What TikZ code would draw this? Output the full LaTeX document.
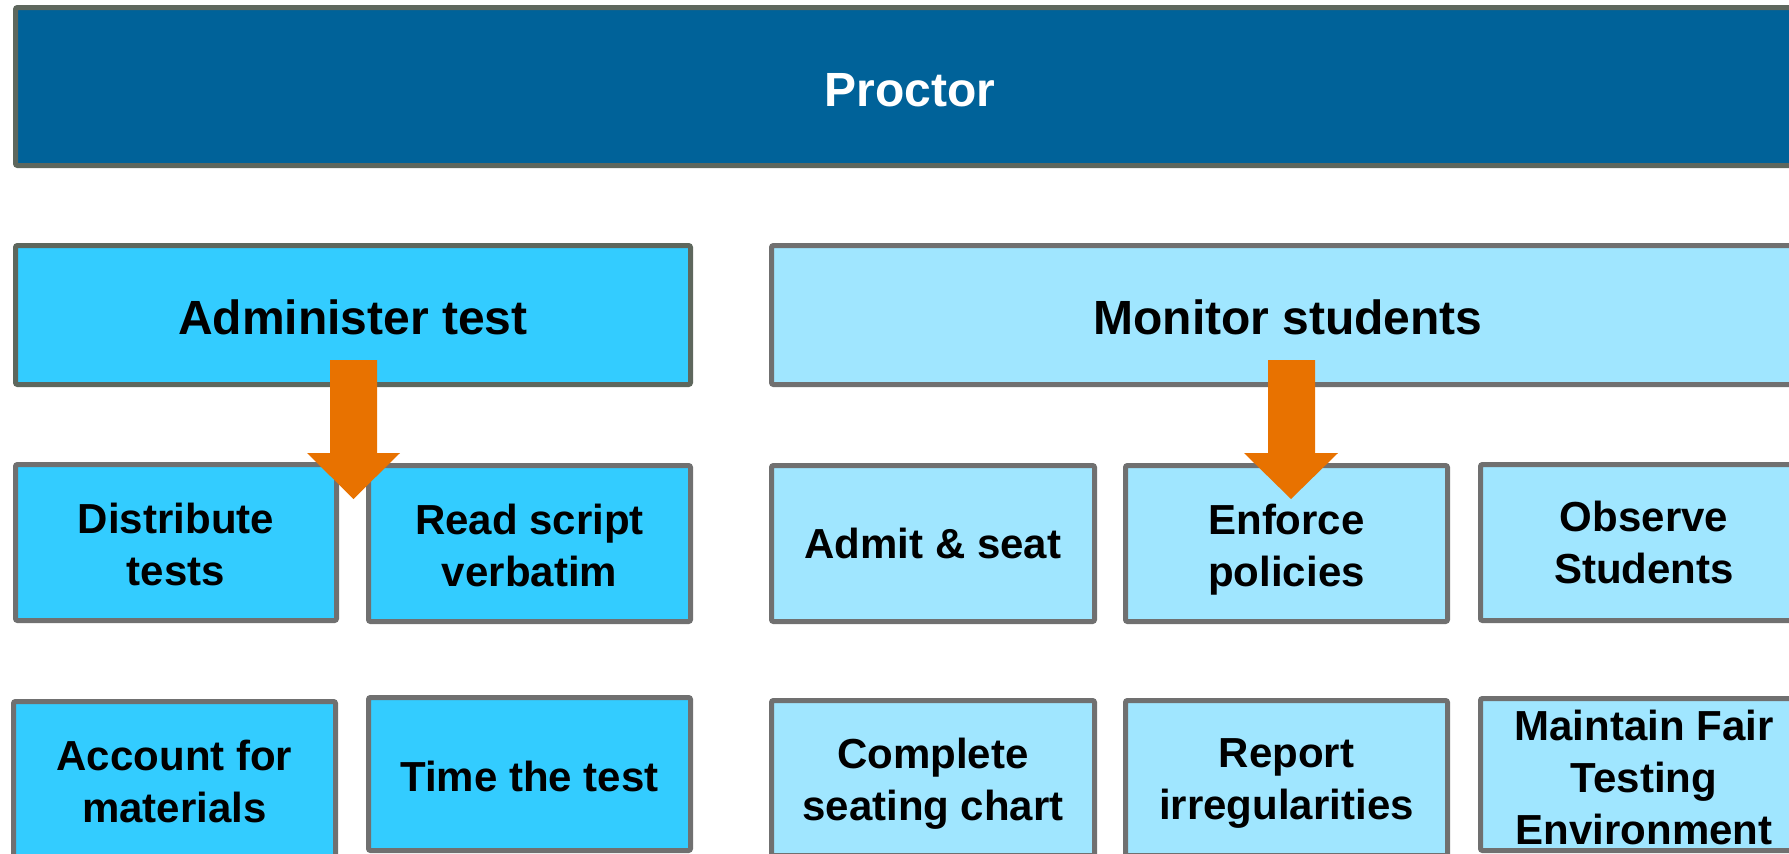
\documentclass[tikz,border=0pt]{standalone}
\usepackage{fontspec}
\setmainfont{Liberation Sans}
\definecolor{proctorfill}{HTML}{006299}
\definecolor{darkedge}{HTML}{5E675D}
\definecolor{grayedge}{HTML}{707070}
\definecolor{adminfill}{HTML}{33CCFF}
\definecolor{monfill}{HTML}{A0E6FF}
\definecolor{arroworange}{HTML}{E87200}
\tikzset{
  basebox/.style={draw, line width=5pt, rounded corners=2pt, inner sep=0pt},
  topbox/.style={basebox, draw=darkedge, fill=proctorfill},
  headA/.style={basebox, draw=darkedge, fill=adminfill},
  headM/.style={basebox, draw=grayedge, fill=monfill},
  taskA/.style={basebox, draw=grayedge, fill=adminfill},
  taskM/.style={basebox, draw=grayedge, fill=monfill},
  bigtext/.style={inner sep=0pt, align=center, font=\fontsize{48}{58}\selectfont\bfseries},
  smalltext/.style={inner sep=0pt, align=center, font=\fontsize{42}{52}\selectfont\bfseries},
  blockarrow/.style={fill=arroworange, draw=none}
}
\begin{document}
\begin{tikzpicture}[x=1pt,y=-1pt]
\useasboundingbox (0,0) rectangle (1789,854);
\clip (0,0) rectangle (1789,854);
\node[topbox, minimum width=1789pt, minimum height=158pt] (proctor) at (910,86.5) {};
\node[headA, minimum width=675pt, minimum height=139pt] (admin) at (353,315) {};
\node[headM, minimum width=1033pt, minimum height=139pt] (monitor) at (1288,315) {};
% row 2
\node[taskA, minimum width=321pt, minimum height=156pt] (distribute) at (176,542.5) {};
\node[taskA, minimum width=322pt, minimum height=156pt] (read) at (529.5,543.5) {};
\node[taskM, minimum width=323pt, minimum height=156pt] (admit) at (933,543.5) {};
\node[taskM, minimum width=322pt, minimum height=156pt] (enforce) at (1286.5,543.5) {};
\node[taskM, minimum width=327pt, minimum height=156pt] (observe) at (1644,542.5) {};
% row 3
\node[taskA, minimum width=322pt, minimum height=156pt] (account) at (174.5,779.5) {};
\node[taskA, minimum width=322pt, minimum height=153pt] (time) at (529.5,774) {};
\node[taskM, minimum width=323pt, minimum height=155pt] (complete) at (933,778) {};
\node[taskM, minimum width=322pt, minimum height=155pt] (report) at (1286.5,778) {};
\node[taskM, minimum width=327pt, minimum height=152pt] (maintain) at (1644,774.5) {};
% texts
\node[bigtext, text=white, yshift=-3.4pt] (proctor-t) at (proctor.center) {Proctor};
\node[bigtext, yshift=-2.3pt] (admin-t) at (admin.center) {Administer test};
\node[bigtext, yshift=-2.3pt] (monitor-t) at (monitor.center) {Monitor students};
\node[smalltext, yshift=-2.3pt] (distribute-t) at (distribute.center) {Distribute\\tests};
\node[smalltext, yshift=-1.7pt] (read-t) at (read.center) {Read script\\verbatim};
\node[smalltext] (admit-t) at (admit.center) {Admit \& seat};
\node[smalltext, yshift=-5.7pt] (enforce-t) at (enforce.center) {Enforce\\policies};
\node[smalltext] (observe-t) at (observe.center) {Observe\\Students};
\node[smalltext, yshift=-2.3pt] (account-t) at (account.center) {Account for\\materials};
\node[smalltext, yshift=-2.3pt] (time-t) at (time.center) {Time the test};
\node[smalltext, yshift=-5.7pt] (complete-t) at (complete.center) {Complete\\seating chart};
\node[smalltext, yshift=-5.7pt] (report-t) at (report.center) {Report\\irregularities};
\node[smalltext, yshift=-3.4pt] (maintain-t) at (maintain.center) {Maintain Fair\\Testing\\Environment};
% block arrows
\coordinate (tipA) at (353.5,499);
\coordinate (tipM) at (1291,499);
\fill[blockarrow] (330,360) -- (377,360) -- (377,453) -- (400,453) -- (tipA) -- (307,453) -- (330,453) -- cycle;
\fill[blockarrow] (1268,360) -- (1315,360) -- (1315,453) -- (1338,453) -- (tipM) -- (1244,453) -- (1268,453) -- cycle;
\end{tikzpicture}
\end{document}
